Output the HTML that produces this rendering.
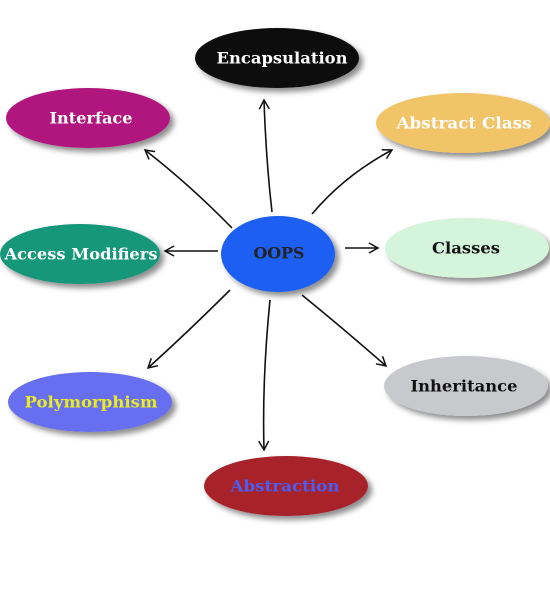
<!DOCTYPE html>
<html><head><meta charset="utf-8"><style>
html,body{margin:0;padding:0;background:#fff;width:550px;height:600px;overflow:hidden}
text{font-family:"DejaVu Serif","Liberation Serif",serif;font-weight:bold;font-size:16px;text-anchor:middle;dominant-baseline:central}
</style></head><body>
<svg width="550" height="600" viewBox="0 0 550 600">
<defs>
<filter id="sh" x="-20%" y="-20%" width="150%" height="160%"><feDropShadow dx="4" dy="4" stdDeviation="3" flood-color="#000" flood-opacity="0.45"/></filter>
<marker id="ar" markerWidth="12" markerHeight="12" refX="10" refY="6" orient="auto" markerUnits="userSpaceOnUse"><path d="M1,1 L10,6 L1,11" fill="none" stroke="#111" stroke-width="1.5"/></marker>
</defs>
<g stroke="#111" stroke-width="1.6" fill="none" marker-end="url(#ar)">
<path d="M272,212 Q266,160 264,100"/>
<path d="M232,228 Q190,185 145,150"/>
<path d="M312,214 Q345,175 392,150"/>
<path d="M218,251 L165,251"/>
<path d="M345,248 L378,248"/>
<path d="M302,295 Q345,330 386,366"/>
<path d="M230,290 Q190,330 148,368"/>
<path d="M270,300 Q262,380 264,450"/>
</g>
<g filter="url(#sh)">
<ellipse cx="277" cy="58" rx="82" ry="30" fill="#080808"/>
<ellipse cx="88" cy="118" rx="82" ry="30" fill="#b0187e"/>
<ellipse cx="463" cy="123" rx="87" ry="30" fill="#f2c468"/>
<ellipse cx="80" cy="254" rx="80" ry="30" fill="#14977a"/>
<ellipse cx="278" cy="254" rx="57" ry="38" fill="#1b5ff2"/>
<ellipse cx="467" cy="248" rx="82" ry="30" fill="#d4f4dc"/>
<ellipse cx="466" cy="386" rx="82" ry="30" fill="#c8c9cd"/>
<ellipse cx="90" cy="402" rx="82" ry="30" fill="#676ef0"/>
<ellipse cx="286" cy="486" rx="82" ry="30" fill="#a8202c"/>
</g>
<text x="282" y="58" fill="#fff" textLength="131" lengthAdjust="spacingAndGlyphs">Encapsulation</text>
<text x="91" y="118" fill="#fff" textLength="83" lengthAdjust="spacingAndGlyphs">Interface</text>
<text x="464" y="123" fill="#fff" textLength="135" lengthAdjust="spacingAndGlyphs">Abstract Class</text>
<text x="81" y="254" fill="#fff" textLength="153" lengthAdjust="spacingAndGlyphs">Access Modifiers</text>
<text x="279" y="253" fill="#222" textLength="51" lengthAdjust="spacingAndGlyphs">OOPS</text>
<text x="466" y="248" fill="#111" textLength="68" lengthAdjust="spacingAndGlyphs">Classes</text>
<text x="464" y="386" fill="#111" textLength="107" lengthAdjust="spacingAndGlyphs">Inheritance</text>
<text x="91" y="402" fill="#e8ec20" textLength="133" lengthAdjust="spacingAndGlyphs">Polymorphism</text>
<text x="285" y="486" fill="#4a5cf2" textLength="109" lengthAdjust="spacingAndGlyphs">Abstraction</text>
</svg>
</body></html>
